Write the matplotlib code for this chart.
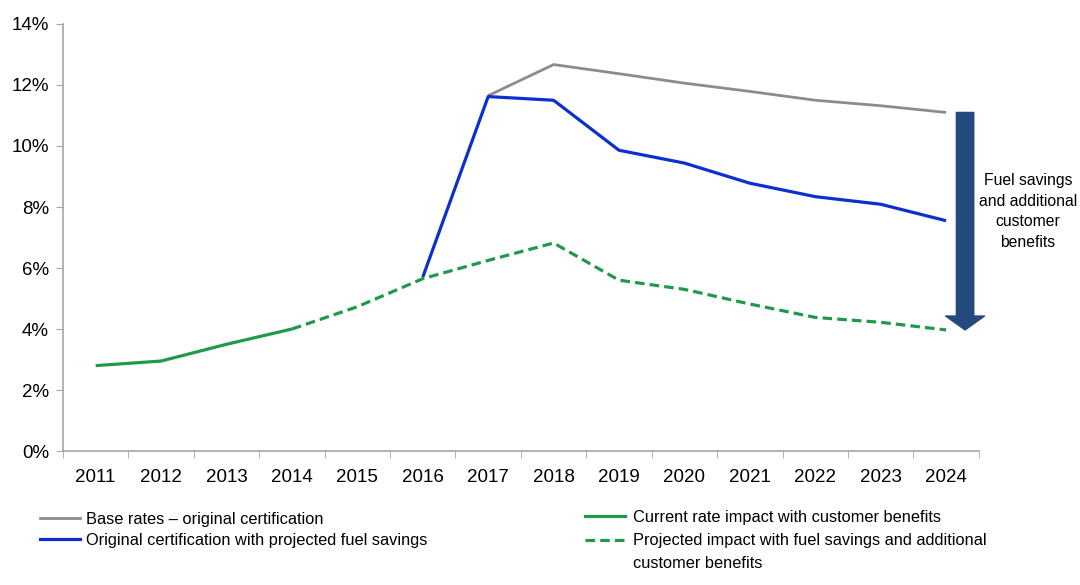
import numpy as np
import matplotlib.pyplot as plt
from matplotlib.lines import Line2D

plt.rcParams['font.family'] = ['Liberation Sans', 'DejaVu Sans']

years = ['2011', '2012', '2013', '2014', '2015', '2016', '2017',
         '2018', '2019', '2020', '2021', '2022', '2023', '2024']
nan = np.nan
base_rates = [nan, nan, nan, nan, nan, nan, 11.65, 12.67, 12.37, 12.06, 11.79, 11.50, 11.32, 11.10]
fuel_savings = [nan, nan, nan, nan, nan, 5.70, 11.62, 11.50, 9.86, 9.44, 8.78, 8.34, 8.09, 7.55]
current_impact = [2.80, 2.95, 3.50, 4.00, nan, nan, nan, nan, nan, nan, nan, nan, nan, nan]
projected_impact = [nan, nan, nan, 4.00, 4.73, 5.65, 6.25, 6.82, 5.60, 5.30, 4.82, 4.38, 4.22, 3.97]

c_gray = '#8c8c8c'
c_blue = '#0c2fd0'
c_green = '#1f9a4b'
c_arrow = '#234a7c'

fig = plt.figure(figsize=(10.8, 5.85), dpi=100)
ax = fig.add_axes([0.0583, 0.229, 0.848, 0.73])

x = np.arange(len(years))
ax.plot(x, base_rates, color=c_gray, lw=2.0, solid_capstyle='butt')
ax.plot(x, fuel_savings, color=c_blue, lw=2.3, solid_capstyle='butt')
ax.plot(x, current_impact, color=c_green, lw=2.3, solid_capstyle='butt')
ax.plot(x, projected_impact, color=c_green, lw=2.3, dashes=(3, 1.6))

# big arrow: from base rate down to projected impact in 2024
ax.annotate('', xy=(13.29, projected_impact[-1]), xytext=(13.29, base_rates[-1]),
            arrowprops=dict(arrowstyle='simple,head_width=2.8,head_length=1.0,tail_width=1.25',
                            color=c_arrow, shrinkA=0, shrinkB=0, mutation_scale=10),
            annotation_clip=False)
ax.text(14.25, 7.85, 'Fuel savings\nand additional\ncustomer\nbenefits', ha='center', va='center',
        fontsize=11.3, linespacing=1.45, clip_on=False)

ax.set_xlim(-0.5, 13.5)
ax.set_ylim(0, 14)
ax.set_yticks(np.arange(0, 15, 2))
ax.set_yticklabels([f'{v}%' for v in range(0, 15, 2)])
ax.set_xticks(x)
ax.set_xticklabels(years)
ax.set_xticks(np.arange(-0.5, 14, 1), minor=True)
ax.tick_params(axis='x', which='major', length=0, pad=13, labelsize=13.5)
ax.tick_params(axis='x', which='minor', length=5, color='#a6a6a6', direction='out')
ax.tick_params(axis='y', length=5, color='#a6a6a6', labelsize=13.5, pad=5)
for s in ['top', 'right']:
    ax.spines[s].set_visible(False)
for s in ['left', 'bottom']:
    ax.spines[s].set_color('#a6a6a6')
    ax.spines[s].set_linewidth(1.2)

h1 = [Line2D([], [], color=c_gray, lw=2.0), Line2D([], [], color=c_blue, lw=2.3)]
l1 = ['Base rates \u2013 original certification', 'Original certification with projected fuel savings']
h2 = [Line2D([], [], color=c_green, lw=2.3), Line2D([], [], color=c_green, lw=2.3, dashes=(3, 1.6))]
l2 = ['Current rate impact with customer benefits',
      'Projected impact with fuel savings and additional']
leg1 = fig.legend(h1, l1, loc='upper left', bbox_to_anchor=(0.037, 0.125), frameon=False,
                  fontsize=11.8, handlelength=2.45, handletextpad=0.37, labelspacing=0.38,
                  borderpad=0, borderaxespad=0)
leg2 = fig.legend(h2, l2, loc='upper left', bbox_to_anchor=(0.5417, 0.128), frameon=False,
                  fontsize=11.8, handlelength=2.45, handletextpad=0.45, labelspacing=0.5,
                  borderpad=0, borderaxespad=0)

# second line of the wrapped legend label
fig.canvas.draw()
bb = leg2.get_texts()[1].get_window_extent()
fig.text(bb.x0 / fig.bbox.width, (bb.y0 - 23) / fig.bbox.height, 'customer benefits',
         fontsize=11.8, ha='left', va='bottom')

fig.savefig('out.png', dpi=100)
